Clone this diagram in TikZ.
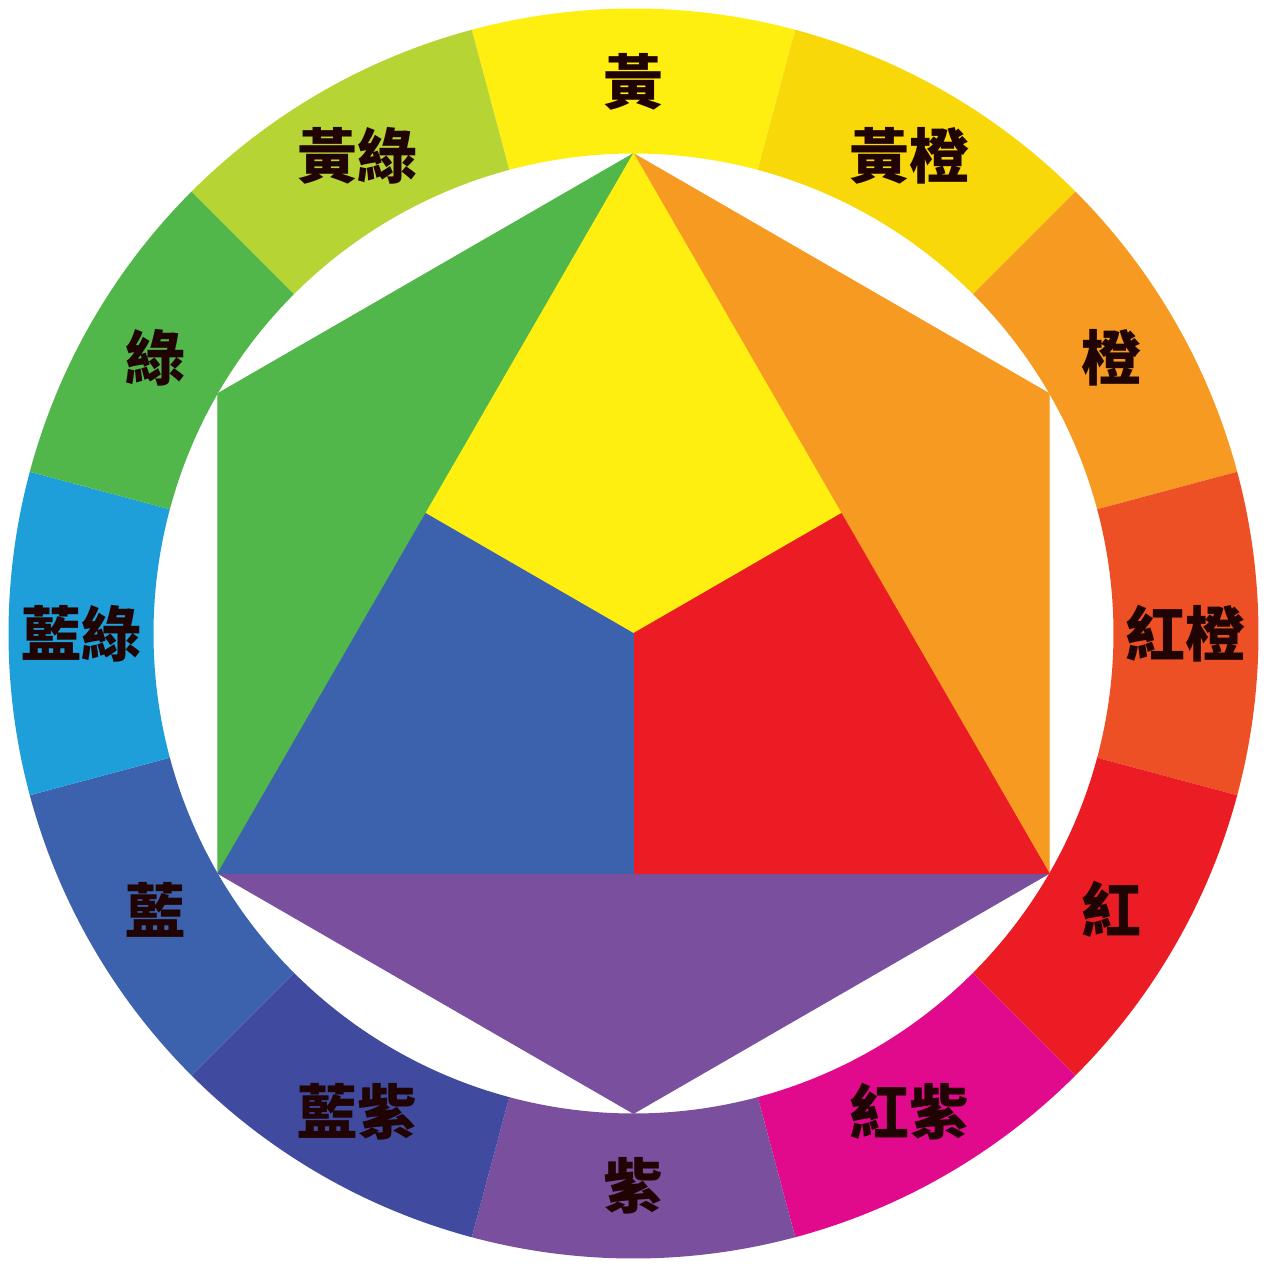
\documentclass[tikz,border=0pt]{standalone}
\usepackage{fontspec}
\usepackage{tikz}
\usetikzlibrary{calc}
\usepackage{xcolor}
\newfontfamily\cjk{Noto Sans CJK TC}
\definecolor{HueY}{HTML}{FEEF10}
\definecolor{HueYO}{HTML}{F8D808}
\definecolor{HueO}{HTML}{F79A21}
\definecolor{HueRO}{HTML}{EE5025}
\definecolor{HueR}{HTML}{EC1C24}
\definecolor{HueRV}{HTML}{E20A8C}
\definecolor{HueV}{HTML}{794F9E}
\definecolor{HueBV}{HTML}{404A9F}
\definecolor{HueB}{HTML}{3C62AD}
\definecolor{HueBG}{HTML}{1E9FDA}
\definecolor{HueG}{HTML}{52B74A}
\definecolor{HueYG}{HTML}{B6D433}
\definecolor{Ink}{HTML}{200404}
\tikzset{
  huelabel/.style={text=Ink, inner sep=0pt,
    font=\cjk\bfseries\fontsize{17}{17}\selectfont},
  wedge/.style={fill=#1, draw=#1, line width=0.2pt, line join=round},
}

\begin{document}
\begin{tikzpicture}
  \useasboundingbox (-6.335,-6.335) rectangle (6.335,6.335);
  % outer ring of twelve hues
  \foreach \col/\txt [count=\i from 0] in {HueY/黃, HueYO/黃橙, HueO/橙, HueRO/紅橙,
      HueR/紅, HueRV/紅紫, HueV/紫, HueBV/藍紫, HueB/藍, HueBG/藍綠, HueG/綠, HueYG/黃綠}{
    \pgfmathsetmacro{\a}{90-30*\i}
    \fill[\col] (\a-15:4.8) arc[start angle=\a-15, end angle=\a+15, radius=4.8]
      -- (\a+15:6.25) arc[start angle=\a+15, end angle=\a-15, radius=6.25] -- cycle;
    \node[huelabel] (lab\i) at (\a:5.52) {\txt};
  }
  % hexagon corners
  \coordinate (Y) at (90:4.8);
  \coordinate (O) at (30:4.8);
  \coordinate (R) at (-30:4.8);
  \coordinate (V) at (-90:4.8);
  \coordinate (B) at (210:4.8);
  \coordinate (G) at (150:4.8);
  \coordinate (C) at (0,0);
  \coordinate (YR) at ($(Y)!0.5!(R)$);
  \coordinate (RB) at ($(R)!0.5!(B)$);
  \coordinate (BY) at ($(B)!0.5!(Y)$);
  % secondary triangles
  \filldraw[wedge=HueO] (Y) -- (O) -- (R) -- cycle;
  \filldraw[wedge=HueG] (Y) -- (G) -- (B) -- cycle;
  \filldraw[wedge=HueV] (B) -- (V) -- (R) -- cycle;
  % primary triangle
  \filldraw[wedge=HueY] (Y) -- (YR) -- (C) -- (BY) -- cycle;
  \filldraw[wedge=HueR] (YR) -- (R) -- (RB) -- (C) -- cycle;
  \filldraw[wedge=HueB] (BY) -- (C) -- (RB) -- (B) -- cycle;
\end{tikzpicture}
\end{document}
